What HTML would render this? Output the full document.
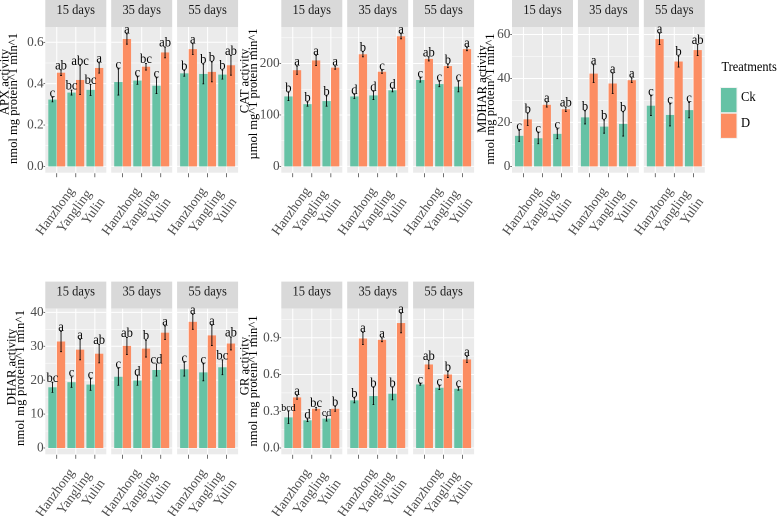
<!DOCTYPE html>
<html lang="en">
<head>
<meta charset="utf-8">
<title>Antioxidant enzyme activity by region and treatment</title>
<style>
html,body{margin:0;padding:0;background:#fff;}
svg{display:block;font-family:"Liberation Serif","DejaVu Serif",serif;}
</style>
</head>
<body>
<svg id="figure" xmlns="http://www.w3.org/2000/svg" width="780" height="516" viewBox="0 0 780 516"></svg>
<script>
const categories = ['Hanzhong', 'Yangling', 'Yulin'];
const facets = ['15 days', '35 days', '55 days'];
const treatments = ['Ck', 'D'];

const apxTicks = [0, 0.2, 0.4, 0.6];
const apxTickLabels = ['0.0', '0.2', '0.4', '0.6'];
const apxCk = [[0.323, 0.357, 0.37], [0.408, 0.415, 0.39], [0.45, 0.447, 0.444]];
const apxD = [[0.453, 0.418, 0.476], [0.616, 0.482, 0.551], [0.567, 0.457, 0.489]];
const apxCkErr = [[0.011, 0.012, 0.027], [0.063, 0.018, 0.038], [0.014, 0.048, 0.022]];
const apxDErr = [[0.014, 0.07, 0.025], [0.025, 0.016, 0.026], [0.026, 0.048, 0.048]];
const apxCkLetters = [['c', 'bc', 'bc'], ['c', 'c', 'c'], ['b', 'b', 'b']];
const apxDLetters = [['ab', 'abc', 'a'], ['a', 'bc', 'ab'], ['a', 'b', 'ab']];

const catTicks = [0, 100, 200];
const catTickLabels = ['0', '100', '200'];
const catCk = [[136, 121, 127], [136, 138, 148], [168, 160, 155]];
const catD = [[187, 206, 192], [218, 184, 253], [209, 195, 228]];
const catCkErr = [[8, 4, 10], [4, 8, 3], [4, 5, 10]];
const catDErr = [[8, 10, 3], [5, 3, 5], [4, 3, 3]];
const catCkLetters = [['b', 'b', 'b'], ['d', 'd', 'd'], ['c', 'c', 'c']];
const catDLetters = [['a', 'a', 'a'], ['b', 'c', 'a'], ['ab', 'b', 'a']];

const mdharTicks = [0, 20, 40, 60];
const mdharTickLabels = ['0', '20', '40', '60'];
const mdharCk = [[13.9, 12.8, 14.8], [22.3, 18.1, 19.3], [27.6, 23.4, 25.6]];
const mdharD = [[21.4, 28, 26], [42.2, 37.7, 39.2], [57.9, 47.7, 52.9]];
const mdharCkErr = [[2.5, 2.5, 2.2], [3, 3, 5.5], [4.5, 5, 3.5]];
const mdharDErr = [[2.8, 1, 1], [4, 4.5, 1], [2.5, 2.5, 2.5]];
const mdharCkLetters = [['c', 'c', 'c'], ['b', 'b', 'b'], ['c', 'c', 'c']];
const mdharDLetters = [['b', 'a', 'ab'], ['a', 'a', 'a'], ['a', 'b', 'ab']];

const dharTicks = [0, 10, 20, 30, 40];
const dharTickLabels = ['0', '10', '20', '30', '40'];
const dharCk = [[17.9, 19.4, 18.7], [21, 19.9, 23], [23.2, 22.3, 23.8]];
const dharD = [[31.4, 29, 27.8], [30.1, 29.3, 34], [37.2, 33.2, 30.8]];
const dharCkErr = [[1.5, 1.5, 1.7], [2.5, 1.4, 1.8], [2, 2.5, 2.2]];
const dharDErr = [[3, 3, 2.7], [2.5, 2.5, 2], [2.2, 3, 1.9]];
const dharCkLetters = [['bc', 'c', 'c'], ['c', 'd', 'cd'], ['c', 'c', 'bc']];
const dharDLetters = [['a', 'a', 'ab'], ['ab', 'b', 'a'], ['a', 'a', 'ab']];

const grTicks = [0, 0.3, 0.6, 0.9];
const grTickLabels = ['0.0', '0.3', '0.6', '0.9'];
const grCk = [[0.25, 0.226, 0.24], [0.389, 0.424, 0.443], [0.519, 0.492, 0.484]];
const grD = [[0.413, 0.32, 0.32], [0.894, 0.883, 1.02], [0.682, 0.6, 0.723]];
const grCkErr = [[0.05, 0.01, 0.02], [0.02, 0.07, 0.05], [0.006, 0.015, 0.012]];
const grDErr = [[0.015, 0.01, 0.02], [0.05, 0.015, 0.08], [0.035, 0.025, 0.025]];
const grCkLetters = [['bcd', 'd', 'cd'], ['b', 'b', 'b'], ['c', 'c', 'c']];
const grDLetters = [['a', 'bc', 'b'], ['a', 'a', 'a'], ['ab', 'b', 'a']];

const SVG_NS = 'http://www.w3.org/2000/svg';
const root = document.getElementById('figure');

function make(parent, tag, attrs, text) {
  const node = document.createElementNS(SVG_NS, tag);
  for (const key in attrs) node.setAttribute(key, attrs[key]);
  if (text !== undefined) node.textContent = text;
  parent.appendChild(node);
  return node;
}

function tall(x, y) {
  return 'translate(' + x + ',' + y + ') scale(1,1.08)';
}

const PANEL_W = 61;
const PANEL_STEP = 65.9;
const STRIP_H = 27;
const PANEL_H = 145.7;
const UNIT = PANEL_W / 3.2;
const BAR_W = UNIT * 0.45;

function drawChart(cfg) {
  const chart = make(root, 'g', {});
  
  

  const panelTop = cfg.top + STRIP_H;
  const panelBottom = panelTop + PANEL_H;
  const zeroY = panelBottom - 6.3;
  const yScale = v => zeroY - v * (zeroY - panelTop) / cfg.yTop;

  const t1 = make(chart, 'text', {
    transform: 'translate(' + cfg.titleX1 + ',' + cfg.titleY1 + ') rotate(-90)',
    'text-anchor': 'middle', 'font-size': 12.6, fill: '#000'
  }, cfg.title);
  
  

  const t2 = make(chart, 'text', {
    transform: 'translate(' + cfg.titleX2 + ',' + cfg.titleY2 + ') rotate(-90)',
    'text-anchor': 'middle', 'font-size': 12.6, fill: '#000',
    textLength: cfg.unitsLen, lengthAdjust: 'spacing'
  }, cfg.units);
  
  

  cfg.ticks.forEach((tick, i) => {
    const label = make(chart, 'text', {
      x: cfg.left - 1.6, y: yScale(tick) + 3.6, 'text-anchor': 'end',
      'font-size': 13.3, fill: '#4d4d4d'
    }, cfg.tickLabels[i]);
    
    
    const mark = make(chart, 'line', {
      x1: cfg.left - 1.8, x2: cfg.left, y1: yScale(tick), y2: yScale(tick),
      stroke: '#333', 'stroke-width': 0.7
    });
    
    
  });

  facets.forEach((facet, f) => {
    const px = cfg.left + f * PANEL_STEP;
    const xScale = c => px + (c + 0.6) * UNIT;

    const group = make(chart, 'g', {});
    
    

    const strip = make(group, 'rect', { x: px, y: cfg.top, width: PANEL_W, height: STRIP_H, fill: '#d9d9d9' });
    
    

    const stripText = make(group, 'text', {
      transform: tall(px + PANEL_W / 2, cfg.top + 14), 'text-anchor': 'middle', 'font-size': 12.5, fill: '#1a1a1a'
    }, facet);
    
    

    const bg = make(group, 'rect', { x: px, y: panelTop, width: PANEL_W, height: PANEL_H, fill: '#ebebeb' });
    
    

    const step = cfg.ticks[1] - cfg.ticks[0];
    for (let k = 0; k <= cfg.ticks.length; k++) {
      const minorValue = cfg.ticks[0] + (k + 0.5) * step;
      if (minorValue < cfg.yTop) {
        const minor = make(group, 'line', {
          x1: px, x2: px + PANEL_W, y1: yScale(minorValue), y2: yScale(minorValue),
          stroke: '#fff', 'stroke-width': 0.5
        });
        
        
      }
    }
    cfg.ticks.forEach(tick => {
      const major = make(group, 'line', {
        x1: px, x2: px + PANEL_W, y1: yScale(tick), y2: yScale(tick),
        stroke: '#fff', 'stroke-width': 1
      });
      
      
    });
    categories.forEach((cat, c) => {
      const v = make(group, 'line', {
        x1: xScale(c), x2: xScale(c), y1: panelTop, y2: panelBottom,
        stroke: '#fff', 'stroke-width': 1
      });
      
      
    });

    categories.forEach((cat, c) => {
      const series = [
        { name: treatments[0], vals: cfg.ck, errs: cfg.ckErr, letters: cfg.ckLetters, fill: '#66c2a5', dx: -BAR_W },
        { name: treatments[1], vals: cfg.d, errs: cfg.dErr, letters: cfg.dLetters, fill: '#fc8d62', dx: 0 }
      ];
      series.forEach(s => {
        const value = s.vals[f][c];
        const barX = xScale(c) + s.dx;
        const bar = make(group, 'rect', {
          x: barX + 0.15, y: yScale(value), width: BAR_W - 0.3, height: zeroY - yScale(value), fill: s.fill
        });
        
        
      });
      series.forEach(s => {
        const value = s.vals[f][c];
        const err = s.errs[f][c];
        const mid = xScale(c) + s.dx + BAR_W / 2;
        const errGroup = make(group, 'path', {
          d: 'M' + (mid - 0.9) + ' ' + yScale(value + err) + 'H' + (mid + 0.9) +
             'M' + mid + ' ' + yScale(value + err) + 'V' + yScale(value - err) +
             'M' + (mid - 0.9) + ' ' + yScale(value - err) + 'H' + (mid + 0.9),
          stroke: '#000', 'stroke-width': 0.85, fill: 'none'
        });
        
        
      });
      series.forEach(s => {
        const value = s.vals[f][c];
        const err = s.errs[f][c];
        const mid = xScale(c) + s.dx + BAR_W / 2;
        const letter = s.letters[f][c];
        const small = cfg.smallLetters && f === 0 && cfg.smallLetters.includes(letter);
        const sig = make(group, 'text', {
          transform: tall(mid, yScale(value + err) - 0.4), 'text-anchor': 'middle',
          'font-size': small ? 10 : 12.6, fill: '#000'
        }, letter);
        
        
      });

      const xTick = make(group, 'line', {
        x1: xScale(c), x2: xScale(c), y1: panelBottom + 0.5, y2: panelBottom + 4.5,
        stroke: '#333', 'stroke-width': 0.7
      });
      
      

      const xLabel = make(group, 'text', {
        transform: 'translate(' + (xScale(c) - 1.5) + ',' + (panelBottom + 38.5) + ') rotate(-54)',
        y: 4, 'text-anchor': 'middle', 'font-size': 13.6, fill: '#4d4d4d'
      }, cat);
      
      
    });
  });
}

drawChart({ id: 'apx', left: 45.3, top: 0, yTop: 0.674,
  title: 'APX activity', units: 'nmol mg protein^1 min^1', unitsLen: 131,
  titleX1: 8.5, titleY1: 82, titleX2: 17, titleY2: 98.5,
  ticks: apxTicks, tickLabels: apxTickLabels, ck: apxCk, d: apxD, ckErr: apxCkErr, dErr: apxDErr,
  ckLetters: apxCkLetters, dLetters: apxDLetters });
drawChart({ id: 'cat', left: 281.3, top: 0, yTop: 271,
  title: 'CAT activity', units: 'µmol mg^1 protein min^1', unitsLen: 131,
  titleX1: 248.5, titleY1: 81, titleX2: 257, titleY2: 94,
  ticks: catTicks, tickLabels: catTickLabels, ck: catCk, d: catD, ckErr: catCkErr, dErr: catDErr,
  ckLetters: catCkLetters, dLetters: catDLetters });
drawChart({ id: 'mdhar', left: 512, top: 0, yTop: 63.4,
  title: 'MDHAR activity', units: 'nmol mg protein^1 min^1', unitsLen: 131,
  titleX1: 486, titleY1: 89, titleX2: 494, titleY2: 99,
  ticks: mdharTicks, tickLabels: mdharTickLabels, ck: mdharCk, d: mdharD, ckErr: mdharCkErr, dErr: mdharDErr,
  ckLetters: mdharCkLetters, dLetters: mdharDLetters });
drawChart({ id: 'dhar', left: 45.3, top: 281.6, yTop: 41.1,
  title: 'DHAR activity', units: 'nmol mg protein^1 min^1', unitsLen: 136,
  titleX1: 15.5, titleY1: 367, titleX2: 24, titleY2: 378,
  ticks: dharTicks, tickLabels: dharTickLabels, ck: dharCk, d: dharD, ckErr: dharCkErr, dErr: dharDErr,
  ckLetters: dharCkLetters, dLetters: dharDLetters });
drawChart({ id: 'gr', left: 281.3, top: 281.6, yTop: 1.138,
  title: 'GR activity', units: 'nmol mg protein^1 min^1', unitsLen: 131,
  titleX1: 248.5, titleY1: 366, titleX2: 257, titleY2: 381,
  ticks: grTicks, tickLabels: grTickLabels, ck: grCk, d: grD, ckErr: grCkErr, dErr: grDErr,
  ckLetters: grCkLetters, dLetters: grDLetters, smallLetters: ['bcd', 'cd'] });

const legend = make(root, 'g', {});


const legendTitle = make(legend, 'text', { transform: tall(721.5, 71), 'font-size': 12.4, fill: '#000' }, 'Treatments');


const keyColors = ['#66c2a5', '#fc8d62'];
treatments.forEach((name, i) => {
  const key = make(legend, 'rect', { x: 720.5, y: 87.5 + i * 25.7, width: 16.5, height: 25.2, fill: keyColors[i], stroke: '#f2f2f2', 'stroke-width': 1 });
  
  
  const text = make(legend, 'text', { transform: tall(741, 101.2 + i * 25.9), 'font-size': 12.6, fill: '#000' }, name);
  
  
});
</script>
</body>
</html>
